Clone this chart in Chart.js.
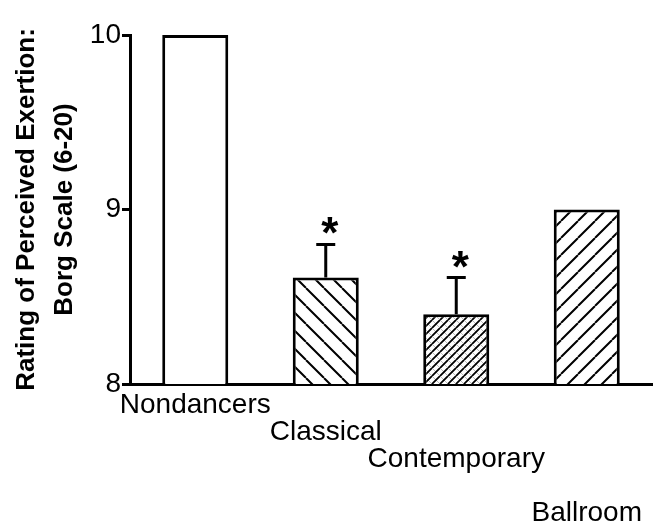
<!DOCTYPE html>
<html>
<head>
<meta charset="utf-8">
<script src="https://cdn.jsdelivr.net/npm/chart.js@4.4.1/dist/chart.umd.min.js"></script>
<style>
  html, body { margin: 0; padding: 0; background: #fff; }
  #wrap { width: 660px; height: 521px; }
</style>
</head>
<body>
<div id="wrap"><canvas id="grafico"></canvas></div>
<script>
const categorias = ['Nondancers', 'Classical', 'Contemporary', 'Ballroom'];
// linhas vazias deslocam os rótulos em degraus, como no original
const rotulos = [['Nondancers'], ['', 'Classical'], ['', '', 'Contemporary'], ['', '', '', '', 'Ballroom']];
const medias = [10.0, 8.61, 8.40, 9.0];
const erros = [0, 0.19, 0.21, 0];
const significancia = ['', '*', '*', ''];
const ticksY = [8, 9, 10];

function hachura(tam, direcao, largura, extra) {
  const c = document.createElement('canvas');
  c.width = tam; c.height = tam;
  const ctx = c.getContext('2d');
  ctx.fillStyle = '#fff';
  ctx.fillRect(0, 0, tam, tam);
  function linhas(dir, cor, lw) {
    ctx.strokeStyle = cor;
    ctx.lineWidth = lw;
    ctx.beginPath();
    for (let k = -1; k <= 1; k++) {
      if (dir === '/') {
        ctx.moveTo(k * tam, tam); ctx.lineTo(k * tam + tam, 0);
      } else {
        ctx.moveTo(k * tam, 0); ctx.lineTo(k * tam + tam, tam);
      }
    }
    ctx.stroke();
  }
  if (extra) linhas(extra.dir, extra.cor, extra.lw);
  linhas(direcao, '#000', largura);
  return ctx.createPattern(c, 'repeat');
}

const preenchimentos = [
  '#fff',
  hachura(18, '\\', 2),
  hachura(8, '/', 1.8, { dir: '\\', cor: '#bbb', lw: 1 }),
  hachura(17, '/', 2)
];

const barrasErro = {
  id: 'barrasErro',
  afterDatasetsDraw(chart) {
    const ctx = chart.ctx;
    const meta = chart.getDatasetMeta(0);
    const y = chart.scales.y;
    ctx.save();
    meta.data.forEach((bar, i) => {
      const topo = y.getPixelForValue(medias[i] + erros[i]);
      if (erros[i] > 0) {
        ctx.strokeStyle = '#000';
        ctx.lineWidth = 3;
        ctx.beginPath();
        ctx.moveTo(bar.x, bar.y);
        ctx.lineTo(bar.x, topo);
        ctx.moveTo(bar.x - 9.5, topo);
        ctx.lineTo(bar.x + 9.5, topo);
        ctx.stroke();
      }
      if (significancia[i]) {
        ctx.fillStyle = '#000';
        ctx.font = 'bold 44px "Liberation Sans", Arial, sans-serif';
        ctx.textAlign = 'center';
        ctx.textBaseline = 'alphabetic';
        ctx.fillText(significancia[i], bar.x + 4, topo + 4);
      }
    });
    ctx.restore();
  }
};

Chart.defaults.font.family = '"Liberation Sans", Arial, sans-serif';
Chart.defaults.color = '#000';

new Chart(document.getElementById('grafico').getContext('2d'), {
  type: 'bar',
  data: {
    labels: rotulos,
    datasets: [{
      label: 'RPE',
      data: medias,
      backgroundColor: preenchimentos,
      borderColor: '#000',
      borderWidth: 3,
      borderSkipped: false,
      barPercentage: 0.506,
      categoryPercentage: 1
    }]
  },
  options: {
    responsive: true,
    maintainAspectRatio: false,
    animation: false,
    layout: { padding: { top: 35, right: 8, left: 0, bottom: 0 } },
    plugins: {
      legend: { display: false },
      tooltip: { enabled: false }
    },
    scales: {
      x: {
        grid: { display: false, drawTicks: false },
        border: { display: true, color: '#000', width: 3 },
        ticks: {
          font: { size: 28, lineHeight: '27px' },
          color: '#000',
          padding: 8,
          maxRotation: 0,
          autoSkip: false
        },
        afterFit(scale) { scale.height = 137; }
      },
      y: {
        min: 8,
        max: 10,
        afterBuildTicks(scale) { scale.ticks = ticksY.map(v => ({ value: v })); },
        grid: {
          drawOnChartArea: false,
          drawTicks: true,
          tickLength: 8,
          tickWidth: 3,
          tickColor: '#000'
        },
        border: { display: true, color: '#000', width: 3 },
        ticks: {
          font: { size: 28 },
          color: '#000',
          padding: 1
        },
        title: {
          display: true,
          text: ['Rating of Perceived Exertion:', 'Borg Scale (6-20)'],
          font: { size: 26, weight: 'bold', lineHeight: '38px' },
          color: '#000',
          padding: { top: 8, bottom: 0 }
        },
        afterFit(scale) { scale.width = 130; }
      }
    }
  },
  plugins: [barrasErro]
});
</script>
</body>
</html>
